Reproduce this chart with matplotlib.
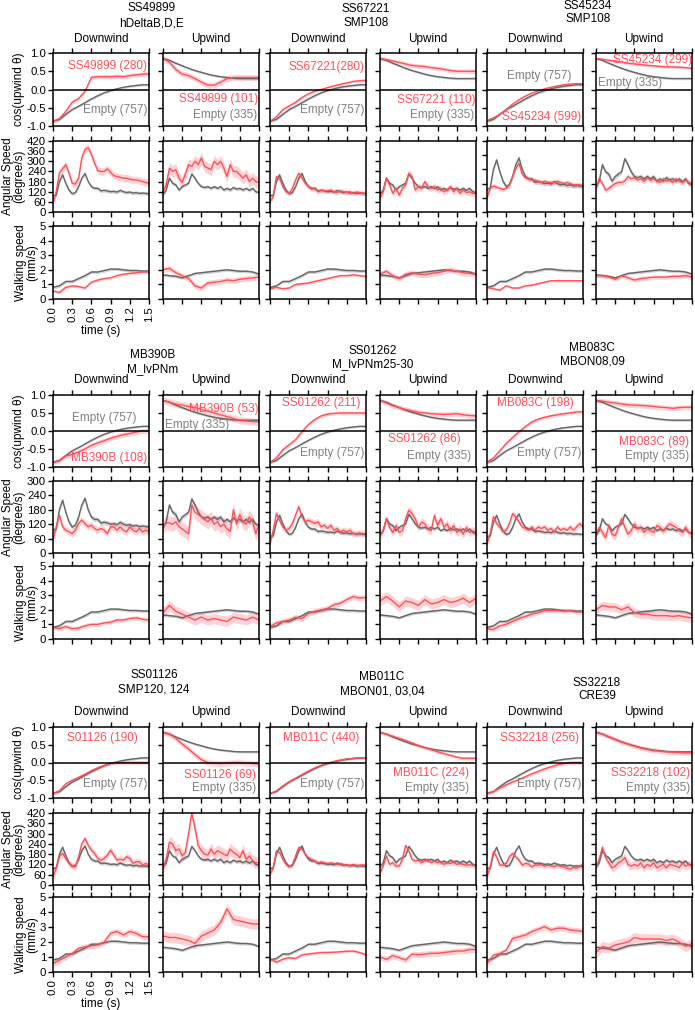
import numpy as np
import matplotlib.pyplot as plt

plt.rcParams['font.family'] = ['Liberation Sans', 'DejaVu Sans']

# time grids (s)
t_cos = np.round(np.arange(0, 1.51, 0.1), 2)
t_ang = np.round(np.arange(0, 1.51, 0.05), 2)
t_walk = np.round(np.arange(0, 1.51, 0.1), 2)

# Empty controls (shared in every panel)
empty_cos_dn = [-0.87, -0.82, -0.68, -0.55, -0.46, -0.36, -0.26, -0.17, -0.09, -0.03, 0.02, 0.06, 0.09, 0.11, 0.13, 0.13]
empty_cos_up = [0.85, 0.8, 0.72, 0.65, 0.58, 0.52, 0.47, 0.42, 0.38, 0.35, 0.33, 0.31, 0.30, 0.30, 0.30, 0.30]
empty_ang_dn = [95, 100, 180, 220, 170, 130, 108, 115, 150, 200, 228, 180, 150, 140, 140, 125,
                128, 125, 120, 122, 118, 128, 120, 115, 118, 112, 115, 110, 112, 110, 108]
empty_ang_up = [105, 130, 200, 170, 160, 130, 150, 160, 170, 225, 200, 170, 150, 145, 150, 140,
                150, 140, 150, 130, 140, 130, 145, 135, 140, 130, 140, 128, 140, 120, 115]
empty_walk_dn = [0.8, 0.9, 1.2, 1.2, 1.4, 1.6, 1.85, 1.85, 1.95, 2.05, 2.05, 2.0, 1.95, 1.95, 1.92, 1.92]
empty_walk_up = [1.65, 1.6, 1.55, 1.45, 1.6, 1.75, 1.8, 1.85, 1.9, 1.95, 2.0, 1.95, 1.9, 1.9, 1.85, 1.7]

# SS49899
SS49899_cos_dn = [-0.87, -0.8, -0.6, -0.35, -0.25, -0.05, 0.33, 0.35, 0.35, 0.35, 0.36, 0.35, 0.38, 0.40, 0.42, 0.43]
SS49899_cos_up = [0.85, 0.75, 0.55, 0.42, 0.38, 0.3, 0.2, 0.12, 0.12, 0.2, 0.3, 0.33, 0.33, 0.33, 0.33, 0.33]
SS49899_ang_dn = [50, 120, 230, 255, 280, 230, 170, 165, 200, 320, 370, 380, 340, 290, 245, 240,
                  240, 255, 235, 215, 210, 205, 200, 200, 195, 190, 190, 185, 180, 175, 170]
SS49899_ang_up = [120, 160, 260, 240, 250, 200, 175, 225, 280, 270, 300, 280, 320, 270, 260, 250,
                  300, 280, 300, 260, 210, 280, 240, 240, 220, 200, 220, 180, 200, 180, 175]
SS49899_walk_dn = [0.55, 0.45, 0.8, 0.9, 0.85, 0.75, 1.15, 1.3, 1.4, 1.45, 1.6, 1.7, 1.75, 1.8, 1.85, 1.85]
SS49899_walk_up = [2.0, 2.1, 1.8, 1.6, 1.4, 0.9, 0.75, 1.1, 1.15, 1.2, 1.3, 1.25, 1.35, 1.4, 1.45, 1.5]

# SS67221
SS67221_cos_dn = [-0.87, -0.75, -0.55, -0.45, -0.35, -0.22, -0.12, -0.05, 0.0, 0.05, 0.1, 0.14, 0.18, 0.22, 0.24, 0.25]
SS67221_cos_up = [0.85, 0.82, 0.78, 0.74, 0.7, 0.66, 0.64, 0.63, 0.6, 0.58, 0.55, 0.52, 0.5, 0.5, 0.5, 0.5]
SS67221_ang_dn = [60, 90, 210, 200, 150, 120, 110, 140, 190, 230, 200, 170, 150, 135, 140, 120,
                  130, 125, 125, 130, 120, 115, 125, 120, 115, 120, 110, 118, 115, 112, 110]
SS67221_ang_up = [80, 120, 200, 160, 110, 140, 100, 140, 160, 230, 210, 130, 150, 140, 180, 150,
                  140, 150, 130, 140, 120, 130, 150, 120, 140, 110, 130, 115, 120, 110, 110]
SS67221_walk_dn = [0.7, 0.8, 0.7, 0.75, 1.0, 1.05, 1.1, 1.2, 1.3, 1.4, 1.5, 1.6, 1.6, 1.65, 1.6, 1.55]
SS67221_walk_up = [1.7, 1.9, 1.6, 1.4, 1.7, 1.8, 1.7, 1.65, 1.75, 1.8, 1.9, 2.0, 1.9, 1.8, 1.75, 1.7]

# SS45234
SS45234_cos_dn = [-0.85, -0.78, -0.68, -0.55, -0.4, -0.28, -0.18, -0.1, -0.04, 0.02, 0.06, 0.1, 0.13, 0.15, 0.16, 0.16]
SS45234_cos_up = [0.85, 0.83, 0.8, 0.78, 0.75, 0.72, 0.7, 0.68, 0.66, 0.65, 0.63, 0.62, 0.62, 0.61, 0.6, 0.58]
SS45234_ang_dn = [60, 100, 110, 105, 100, 95, 100, 115, 150, 185, 205, 160, 145, 140, 135, 135,
                  130, 125, 130, 125, 125, 125, 130, 125, 120, 125, 120, 115, 115, 115, 110]
SS45234_ang_up = [100, 142, 120, 92, 100, 110, 120, 125, 125, 130, 150, 140, 145, 135, 140, 130,
                  145, 135, 140, 130, 125, 140, 130, 135, 125, 140, 130, 125, 135, 125, 120]
SS45234_walk_dn = [0.8, 0.7, 0.6, 0.9, 0.75, 0.75, 0.9, 0.95, 1.05, 1.15, 1.25, 1.25, 1.25, 1.25, 1.25, 1.25]
SS45234_walk_up = [1.6, 1.6, 1.5, 1.35, 1.6, 1.45, 1.3, 1.4, 1.45, 1.5, 1.5, 1.5, 1.55, 1.55, 1.6, 1.5]

# MB390B
MB390B_cos_dn = [-0.87, -0.82, -0.7, -0.65, -0.58, -0.5, -0.4, -0.33, -0.27, -0.2, -0.15, -0.1, -0.07, -0.03, 0.0, 0.0]
MB390B_cos_up = [0.85, 0.8, 0.75, 0.72, 0.68, 0.65, 0.6, 0.55, 0.5, 0.45, 0.4, 0.35, 0.3, 0.28, 0.26, 0.25]
MB390B_ang_dn = [53, 109, 158, 109, 95, 88, 81, 95, 123, 137, 123, 109, 116, 102, 95, 102,
                 95, 81, 109, 109, 95, 109, 95, 88, 109, 95, 88, 102, 88, 95, 88]
MB390B_ang_up = [110, 125, 125, 120, 130, 110, 100, 90, 80, 200, 170, 160, 150, 140, 130, 145,
                 120, 130, 110, 120, 100, 90, 180, 120, 160, 130, 120, 150, 130, 80, 120]
MB390B_walk_dn = [0.8, 0.7, 0.85, 0.7, 0.75, 0.9, 1.0, 1.0, 1.1, 1.15, 1.3, 1.3, 1.4, 1.45, 1.35, 1.3]
MB390B_walk_up = [1.8, 2.3, 1.9, 1.7, 1.5, 1.3, 1.5, 1.3, 1.4, 1.3, 1.2, 1.5, 1.4, 1.3, 1.5, 1.3]

# SS01262
SS01262_cos_dn = [-0.87, -0.75, -0.52, -0.38, -0.24, -0.02, 0.18, 0.32, 0.42, 0.47, 0.49, 0.5, 0.5, 0.5, 0.5, 0.5]
SS01262_cos_up = [0.85, 0.78, 0.7, 0.65, 0.6, 0.56, 0.52, 0.5, 0.48, 0.47, 0.46, 0.47, 0.48, 0.45, 0.43, 0.42]
SS01262_ang_dn = [55, 133, 230, 191, 152, 133, 143, 172, 221, 270, 211, 182, 191, 182, 172, 182,
                  152, 162, 143, 162, 133, 143, 123, 133, 123, 133, 113, 113, 117, 113, 113]
SS01262_ang_up = [110, 130, 200, 150, 120, 160, 120, 130, 200, 250, 230, 200, 150, 180, 170, 140,
                  130, 220, 160, 200, 150, 170, 130, 160, 120, 140, 110, 150, 120, 130, 120]
SS01262_walk_dn = [0.86, 1.1, 1.2, 1.3, 1.5, 1.4, 1.75, 1.9, 2.0, 2.1, 2.35, 2.45, 2.7, 2.9, 2.8, 2.85]
SS01262_walk_up = [2.6, 2.9, 2.6, 2.2, 2.6, 2.5, 2.3, 2.7, 2.4, 2.5, 2.7, 2.5, 2.6, 2.8, 2.5, 2.8]

# MB083C
MB083C_cos_dn = [-0.87, -0.75, -0.55, -0.35, -0.18, -0.02, 0.12, 0.25, 0.33, 0.38, 0.42, 0.45, 0.48, 0.5, 0.53, 0.53]
MB083C_cos_up = [0.85, 0.83, 0.8, 0.78, 0.75, 0.73, 0.72, 0.71, 0.7, 0.68, 0.66, 0.65, 0.63, 0.65, 0.66, 0.66]
MB083C_ang_dn = [55, 113, 211, 172, 152, 123, 133, 172, 230, 211, 182, 152, 143, 133, 152, 133,
                 152, 143, 152, 133, 143, 123, 152, 133, 143, 133, 152, 133, 152, 172, 152]
MB083C_ang_up = [110, 150, 120, 90, 160, 110, 100, 150, 200, 150, 110, 130, 170, 140, 150, 120,
                 140, 130, 120, 160, 150, 130, 150, 170, 160, 150, 130, 120, 150, 120, 110]
MB083C_walk_dn = [0.7, 0.65, 0.9, 1.0, 1.2, 1.4, 1.55, 1.7, 1.8, 1.95, 1.95, 1.95, 1.9, 1.95, 1.85, 1.85]
MB083C_walk_up = [2.0, 2.3, 2.2, 2.2, 2.0, 2.2, 1.8, 1.7, 1.7, 1.6, 1.6, 1.6, 1.55, 1.6, 1.5, 1.45]

# SS01126
SS01126_cos_dn = [-0.87, -0.8, -0.6, -0.5, -0.42, -0.33, -0.23, -0.15, -0.08, -0.02, 0.0, 0.0, 0.0, 0.0, 0.0, 0.0]
SS01126_cos_up = [0.85, 0.8, 0.68, 0.52, 0.38, 0.22, 0.08, 0.0, -0.02, -0.03, -0.02, 0.0, 0.0, -0.02, -0.03, -0.05]
SS01126_ang_dn = [48, 97, 165, 184, 155, 126, 110, 106, 165, 242, 271, 232, 203, 184, 155, 145,
                  155, 174, 203, 174, 145, 150, 145, 165, 155, 126, 136, 136, 116, 126, 116]
SS01126_ang_up = [100, 150, 250, 240, 200, 210, 170, 190, 300, 420, 330, 230, 200, 180, 175, 210,
                  180, 200, 190, 180, 170, 210, 190, 180, 160, 200, 150, 170, 140, 130, 130]
SS01126_walk_dn = [0.56, 0.78, 1.0, 1.23, 1.57, 1.68, 1.75, 1.8, 2.0, 2.58, 2.7, 2.47, 2.7, 2.58, 2.35, 2.35]
SS01126_walk_up = [2.4, 2.3, 2.3, 2.2, 2.1, 1.9, 2.4, 2.6, 2.8, 3.3, 4.2, 3.5, 3.4, 3.3, 3.2, 3.2]

# MB011C
MB011C_cos_dn = [-0.87, -0.8, -0.66, -0.54, -0.44, -0.34, -0.24, -0.15, -0.08, -0.02, 0.03, 0.07, 0.1, 0.12, 0.13, 0.13]
MB011C_cos_up = [0.85, 0.8, 0.74, 0.68, 0.62, 0.55, 0.48, 0.42, 0.36, 0.3, 0.25, 0.2, 0.15, 0.12, 0.12, 0.12]
MB011C_ang_dn = [60, 100, 200, 190, 150, 120, 105, 120, 170, 220, 210, 180, 160, 150, 140, 130,
                 135, 130, 125, 130, 125, 120, 125, 120, 115, 115, 120, 115, 115, 118, 115]
MB011C_ang_up = [70, 110, 170, 120, 130, 110, 110, 150, 230, 200, 150, 140, 145, 130, 140, 150,
                 130, 140, 130, 135, 120, 130, 125, 135, 120, 125, 120, 115, 118, 115, 110]
MB011C_walk_dn = [0.9, 0.65, 0.85, 0.95, 0.9, 1.15, 1.2, 1.25, 1.3, 1.3, 1.32, 1.35, 1.38, 1.4, 1.3, 1.15]
MB011C_walk_up = [1.0, 0.85, 1.1, 0.95, 0.8, 1.2, 1.15, 1.2, 1.25, 1.25, 1.3, 1.35, 1.4, 1.4, 1.5, 1.5]

# SS32218
SS32218_cos_dn = [-0.87, -0.82, -0.72, -0.63, -0.55, -0.48, -0.4, -0.32, -0.25, -0.18, -0.12, -0.07, -0.03, 0.0, 0.0, 0.0]
SS32218_cos_up = [0.85, 0.8, 0.73, 0.65, 0.58, 0.52, 0.46, 0.41, 0.37, 0.34, 0.32, 0.3, 0.29, 0.28, 0.27, 0.27]
SS32218_ang_dn = [48, 106, 194, 165, 116, 116, 126, 165, 184, 165, 145, 116, 126, 122, 106, 116,
                  116, 120, 110, 116, 112, 106, 116, 110, 106, 97, 91, 103, 97, 110, 122]
SS32218_ang_up = [100, 150, 220, 160, 130, 100, 110, 130, 140, 160, 120, 110, 120, 110, 130, 100,
                  120, 110, 130, 100, 110, 120, 100, 120, 115, 110, 100, 130, 110, 120, 115]
SS32218_walk_dn = [0.56, 1.12, 1.23, 1.45, 2.24, 2.35, 2.47, 2.7, 2.85, 3.03, 2.8, 2.92, 2.92, 2.8, 2.76, 2.7]
SS32218_walk_up = [1.3, 1.7, 1.6, 1.8, 1.9, 2.0, 2.3, 2.2, 2.2, 2.2, 2.2, 2.1, 2.2, 2.0, 1.7, 1.9]

drivers = [["SS49899", "SS67221", "SS45234"],
           ["MB390B", "SS01262", "MB083C"],
           ["SS01126", "MB011C", "SS32218"]]
subtitles = [["hDeltaB,D,E", "SMP108", "SMP108"],
             ["M_lvPNm", "M_lvPNm25-30", "MBON08,09"],
             ["SMP120, 124", "MBON01, 03,04", "CRE39"]]

# panel labels: red text per column, per block
red_labels = [["SS49899 (280)", "SS49899 (101)", "SS67221(280)", "SS67221 (110)", "SS45234 (599)", "SS45234 (299)"],
              ["MB390B (108)", "MB390B (53)", "SS01262 (211)", "SS01262 (86)", "MB083C (198)", "MB083C (89)"],
              ["S01126 (190)", "SS01126 (69)", "MB011C (440)", "MB011C (224)", "SS32218 (256)", "SS32218 (102)"]]
gray_labels = [["Empty (757)", "Empty (335)"] * 3] * 3

# angular speed axis top per column
ang_ymax = [[420, 420, 420, 420, 300, 300],
            [300, 300, 420, 420, 420, 420],
            [420, 420, 420, 420, 420, 420]]

# sem half widths (per block, per column)
red_sem_cos = [[0.06, 0.08, 0.04, 0.06, 0.03, 0.04], [0.07, 0.1, 0.05, 0.07, 0.05, 0.07], [0.05, 0.08, 0.03, 0.05, 0.05, 0.07]]
red_sem_ang = [[22, 35, 15, 20, 10, 12], [15, 30, 20, 25, 18, 25], [20, 35, 12, 15, 15, 25]]
red_sem_walk = [[0.1, 0.2, 0.1, 0.2, 0.08, 0.15], [0.15, 0.35, 0.2, 0.35, 0.15, 0.3], [0.2, 0.35, 0.1, 0.2, 0.2, 0.35]]

RED = '#ff5058'
GRAY = '#666666'
FS = 8.5

# layout in pixels
W, H = 695, 1010
col_left = [53, 163, 270, 380, 487, 596]
col_w = 96
row_spans = [[(53, 126), (141, 212), (226, 299)],
             [(395, 467), (481, 553), (566, 639)],
             [(727, 798), (813, 885), (897, 972)]]
header_y = [39, 380, 712]
title_pos = [[(152, 8, 23), (366, 9, 23), (588, 6, 19)],
             [(153, 355, 369), (373, 351, 364), (592, 348, 362)],
             [(154, 675, 689), (382, 677, 692), (597, 683, 696)]]
# label positions in data coords: (x, y, ha)
red_pos = [[(1.47, 0.65, 'right'), (1.49, -0.27, 'right'), (1.47, 0.63, 'right'), (1.49, -0.29, 'right'), (1.47, -0.76, 'right'), (1.5, 0.81, 'right')],
           [(1.47, -0.76, 'right'), (1.5, 0.62, 'right'), (1.42, 0.79, 'right'), (0.7, -0.22, 'center'), (0.76, 0.79, 'center'), (1.45, -0.3, 'right')],
           [(0.78, 0.69, 'center'), (1.45, -0.35, 'right'), (1.4, 0.69, 'right'), (1.4, -0.3, 'right'), (1.44, 0.69, 'right'), (1.47, -0.3, 'right')]]
gray_pos = [[(1.47, -0.56, 'right'), (1.47, -0.71, 'right'), (1.47, -0.56, 'right'), (1.47, -0.71, 'right'), (0.82, 0.36, 'center'), (0.03, 0.18, 'left')],
            [(0.8, 0.36, 'center'), (0.03, 0.17, 'left'), (1.47, -0.6, 'right'), (0.92, -0.7, 'center'), (1.47, -0.6, 'right'), (1.45, -0.7, 'right')],
            [(1.47, -0.6, 'right'), (1.45, -0.73, 'right'), (1.47, -0.6, 'right'), (1.4, -0.73, 'right'), (1.47, -0.6, 'right'), (1.47, -0.73, 'right')]]


def frac(x0, ytop, ybot, w):
    return [x0 / W, 1 - ybot / H, w / W, (ybot - ytop) / H]


def band(ax, t, y, sem, color, alpha):
    y = np.asarray(y, dtype=float)
    ax.fill_between(t, y - sem, y + sem, color=color, alpha=alpha, lw=0)


def style(ax):
    for s in ax.spines.values():
        s.set_linewidth(1.1)
    ax.tick_params(direction='out', length=3.5, width=1, labelsize=8.2,
                   top=True, bottom=True, pad=1.5)
    ax.set_xlim(0, 1.5)
    ax.set_xticks([0, 0.3, 0.6, 0.9, 1.2, 1.5])


fig = plt.figure(figsize=(W / 100, H / 100), dpi=100)

for b in range(3):
    for p in range(3):
        name = drivers[b][p]
        g = globals()
        for d, dr in enumerate(['dn', 'up']):
            c = 2 * p + d
            x0 = col_left[c]
            (r1t, r1b), (r2t, r2b), (r3t, r3b) = row_spans[b]
            ax1 = fig.add_axes(frac(x0, r1t, r1b, col_w))
            ax2 = fig.add_axes(frac(x0, r2t, r2b, col_w))
            ax3 = fig.add_axes(frac(x0, r3t, r3b, col_w))

            # cos(upwind theta)
            e_cos = empty_cos_dn if dr == 'dn' else empty_cos_up
            band(ax1, t_cos, e_cos, 0.03, '#b5b5b5', 0.6)
            ax1.plot(t_cos, e_cos, color=GRAY, lw=1)
            band(ax1, t_cos, g[f'{name}_cos_{dr}'], red_sem_cos[b][c], RED, 0.25)
            ax1.plot(t_cos, g[f'{name}_cos_{dr}'], color=RED, lw=1)
            ax1.axhline(0, color='black', lw=1.1)
            ax1.set_ylim(-1, 1)
            ax1.set_yticks([-1, -0.5, 0, 0.5, 1])
            rx, ry, rha = red_pos[b][c]
            ax1.text(rx, ry, red_labels[b][c], color=RED, fontsize=FS, ha=rha, va='center')
            gx, gy, gha = gray_pos[b][c]
            ax1.text(gx, gy, gray_labels[b][c], color='#808080', fontsize=FS, ha=gha, va='center')

            # angular speed
            e_ang = empty_ang_dn if dr == 'dn' else empty_ang_up
            band(ax2, t_ang, e_ang, 10, '#b5b5b5', 0.6)
            ax2.plot(t_ang, e_ang, color=GRAY, lw=1)
            band(ax2, t_ang, g[f'{name}_ang_{dr}'], red_sem_ang[b][c], RED, 0.25)
            ax2.plot(t_ang, g[f'{name}_ang_{dr}'], color=RED, lw=1)
            ym = ang_ymax[b][c]
            ax2.set_ylim(0, ym)
            ax2.set_yticks(np.arange(0, ym + 1, 60))

            # walking speed
            e_walk = empty_walk_dn if dr == 'dn' else empty_walk_up
            band(ax3, t_walk, e_walk, 0.1, '#b5b5b5', 0.6)
            ax3.plot(t_walk, e_walk, color=GRAY, lw=1)
            band(ax3, t_walk, g[f'{name}_walk_{dr}'], red_sem_walk[b][c], RED, 0.25)
            ax3.plot(t_walk, g[f'{name}_walk_{dr}'], color=RED, lw=1)
            ax3.set_ylim(0, 5)
            ax3.set_yticks([0, 1, 2, 3, 4, 5])

            for ax in (ax1, ax2, ax3):
                style(ax)
                ax.set_xticklabels([])
                if c != 0:
                    ax.set_yticklabels([])
            if c == 0:
                ax1.set_yticklabels(['-1.0', '-0.5', '0.0', '0.5', '1.0'])
                ax1.set_ylabel('cos(upwind θ)', fontsize=FS, labelpad=1)
                ax2.set_ylabel('Angular Speed\n(degree/s)', fontsize=FS, labelpad=1, linespacing=0.95)
                ax3.set_ylabel('Walking speed\n(mm/s)', fontsize=FS, labelpad=1, linespacing=0.95)
                if b != 1:
                    ax3.set_xticklabels(['0.0', '0.3', '0.6', '0.9', '1.2', '1.5'], rotation=90)
                    ax3.set_xlabel('time (s)', fontsize=FS, labelpad=2)

            fig.text((x0 + col_w / 2) / W, 1 - header_y[b] / H,
                     'Downwind' if dr == 'dn' else 'Upwind', fontsize=FS, ha='center', va='center')

        tx, ty1, ty2 = title_pos[b][p]
        fig.text(tx / W, 1 - ty1 / H, name, fontsize=FS, ha='center', va='center')
        fig.text(tx / W, 1 - ty2 / H, subtitles[b][p], fontsize=FS, ha='center', va='center')

fig.savefig('out.png', dpi=100)
